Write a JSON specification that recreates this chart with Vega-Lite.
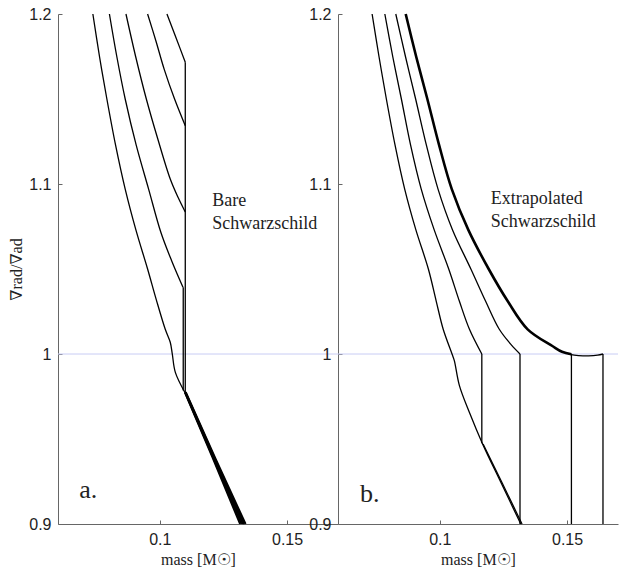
{
  "$schema": "https://vega.github.io/schema/vega-lite/v6.json",
  "background": "white",
  "padding": {"left": 8, "top": 6, "right": 5, "bottom": 5},
  "spacing": 0,
  "bounds": "flush",
  "config": {
    "view": {"stroke": null},
    "axis": {
      "grid": false,
      "domainColor": "#666666",
      "tickColor": "#666666",
      "labelFont": "Liberation Sans",
      "labelFontSize": 16,
      "labelColor": "#222222",
      "titleFont": "Liberation Serif, DejaVu Serif, serif",
      "titleFontSize": 16,
      "titleFontWeight": "normal",
      "titleColor": "#222222",
      "tickSize": -4,
      "labelPadding": 11,
      "titlePadding": 4
    },
    "line": {"color": "black", "strokeWidth": 1.3, "clip": true, "interpolate": "catmull-rom"},
    "rule": {"color": "black", "strokeWidth": 1.3},
    "text": {"align": "left", "baseline": "middle", "font": "Liberation Serif, DejaVu Serif, serif", "color": "#222222"}
  },
  "hconcat": [
    {
      "width": 280,
      "height": 510,
      "layer": [
        {
          "data": {"values": [{"v": 1}]},
          "mark": {"type": "rule", "color": "#c8ccf4", "strokeWidth": 1},
          "encoding": {"y": {"field": "v", "type": "quantitative"}}
        },
        {
          "data": {"values": [
            {"s":"L1","m":0.0737,"v":1.2},{"s":"L1","m":0.0763,"v":1.175},{"s":"L1","m":0.0792,"v":1.15},{"s":"L1","m":0.0826,"v":1.123},{"s":"L1","m":0.0864,"v":1.097},{"s":"L1","m":0.0906,"v":1.073},{"s":"L1","m":0.0952,"v":1.05},{"s":"L1","m":0.0986,"v":1.032},{"s":"L1","m":0.1021,"v":1.0147},{"s":"L1","m":0.1041,"v":1.0069},{"s":"L1","m":0.1049,"v":1.0},{"s":"L1","m":0.1061,"v":0.9892},{"s":"L1","m":0.1098,"v":0.9775},
            {"s":"L2","m":0.0802,"v":1.2},{"s":"L2","m":0.0831,"v":1.175},{"s":"L2","m":0.0864,"v":1.15},{"s":"L2","m":0.0907,"v":1.123},{"s":"L2","m":0.0956,"v":1.097},{"s":"L2","m":0.1004,"v":1.0716},{"s":"L2","m":0.1046,"v":1.055},{"s":"L2","m":0.1091,"v":1.0392},
            {"s":"L3","m":0.0867,"v":1.2},{"s":"L3","m":0.0905,"v":1.175},{"s":"L3","m":0.0947,"v":1.15},{"s":"L3","m":0.0993,"v":1.126},{"s":"L3","m":0.1041,"v":1.1029},{"s":"L3","m":0.1072,"v":1.092},{"s":"L3","m":0.11,"v":1.0835},
            {"s":"L4","m":0.0952,"v":1.2},{"s":"L4","m":0.0985,"v":1.184},{"s":"L4","m":0.1017,"v":1.1676},{"s":"L4","m":0.1058,"v":1.15},{"s":"L4","m":0.11,"v":1.1343},
            {"s":"L5","m":0.1028,"v":1.2},{"s":"L5","m":0.1064,"v":1.1859},{"s":"L5","m":0.11,"v":1.1716}
          ]},
          "mark": {"type": "line"},
          "encoding": {
            "x": {"field": "m", "type": "quantitative", "scale": {"domain": [0.06, 0.17], "nice": false, "zero": false}, "axis": {"values": [0.1, 0.15], "format": "~g", "title": "mass [M☉]"}},
            "y": {"field": "v", "type": "quantitative", "scale": {"domain": [0.9, 1.2], "nice": false, "zero": false}, "axis": {"values": [0.9, 1, 1.1, 1.2], "format": "~g", "title": "∇rad/∇ad"}},
            "detail": {"field": "s"}
          }
        },
        {
          "data": {"values": [
            {"s":"E1","m":0.1098,"v":0.9775},{"s":"E1","m":0.1208,"v":0.9388},{"s":"E1","m":0.1315,"v":0.9},
            {"s":"E2","m":0.1099,"v":0.9775},{"s":"E2","m":0.12105,"v":0.9388},{"s":"E2","m":0.13205,"v":0.9},
            {"s":"E3","m":0.11,"v":0.9775},{"s":"E3","m":0.1213,"v":0.9388},{"s":"E3","m":0.1326,"v":0.9},
            {"s":"E4","m":0.1101,"v":0.9775},{"s":"E4","m":0.12155,"v":0.9388},{"s":"E4","m":0.13315,"v":0.9},
            {"s":"E5","m":0.1102,"v":0.9775},{"s":"E5","m":0.1218,"v":0.9388},{"s":"E5","m":0.1337,"v":0.9}
          ]},
          "mark": {"type": "line", "strokeWidth": 1.9, "interpolate": "linear"},
          "encoding": {"x": {"field": "m", "type": "quantitative"}, "y": {"field": "v", "type": "quantitative"}, "detail": {"field": "s"}}
        },
        {
          "data": {"values": [
            {"m": 0.11, "v": 1.1716, "v2": 0.9775},
            {"m": 0.1092, "v": 1.0392, "v2": 0.9785}
          ]},
          "mark": {"type": "rule"},
          "encoding": {"x": {"field": "m", "type": "quantitative"}, "y": {"field": "v", "type": "quantitative"}, "y2": {"field": "v2"}}
        },
        {
          "data": {"values": [{"m": 0.1206, "v": 1.09, "t": "Bare"}, {"m": 0.1206, "v": 1.0765, "t": "Schwarzschild"}]},
          "mark": {"type": "text", "fontSize": 18},
          "encoding": {"x": {"field": "m", "type": "quantitative"}, "y": {"field": "v", "type": "quantitative"}, "text": {"field": "t"}}
        },
        {
          "data": {"values": [{"m": 0.0683, "v": 0.92, "t": "a."}]},
          "mark": {"type": "text", "fontSize": 26},
          "encoding": {"x": {"field": "m", "type": "quantitative"}, "y": {"field": "v", "type": "quantitative"}, "text": {"field": "t"}}
        }
      ]
    },
    {
      "width": 280,
      "height": 510,
      "layer": [
        {
          "data": {"values": [{"v": 1}]},
          "mark": {"type": "rule", "color": "#c8ccf4", "strokeWidth": 1},
          "encoding": {"y": {"field": "v", "type": "quantitative"}}
        },
        {
          "data": {"values": [
            {"s":"R1","m":0.0734,"v":1.2},{"s":"R1","m":0.0761,"v":1.175},{"s":"R1","m":0.079,"v":1.15},{"s":"R1","m":0.0824,"v":1.123},{"s":"R1","m":0.0862,"v":1.097},{"s":"R1","m":0.0906,"v":1.073},{"s":"R1","m":0.0955,"v":1.05},{"s":"R1","m":0.0986,"v":1.031},{"s":"R1","m":0.1013,"v":1.0147},{"s":"R1","m":0.1048,"v":1.0},{"s":"R1","m":0.1057,"v":0.9961},{"s":"R1","m":0.1077,"v":0.9814},{"s":"R1","m":0.1116,"v":0.9657},{"s":"R1","m":0.1168,"v":0.9471},{"s":"R1","m":0.1243,"v":0.9235},{"s":"R1","m":0.1318,"v":0.9},
            {"s":"R2","m":0.0784,"v":1.2},{"s":"R2","m":0.0815,"v":1.175},{"s":"R2","m":0.0849,"v":1.15},{"s":"R2","m":0.0885,"v":1.123},{"s":"R2","m":0.0927,"v":1.097},{"s":"R2","m":0.0978,"v":1.073},{"s":"R2","m":0.1035,"v":1.05},{"s":"R2","m":0.1077,"v":1.031},{"s":"R2","m":0.1116,"v":1.0147},{"s":"R2","m":0.1165,"v":1.0},
            {"s":"E2","m":0.117,"v":0.9471},{"s":"E2","m":0.1247,"v":0.9235},{"s":"E2","m":0.1323,"v":0.9},
            {"s":"R3","m":0.0827,"v":1.2},{"s":"R3","m":0.0865,"v":1.175},{"s":"R3","m":0.0905,"v":1.15},{"s":"R3","m":0.0947,"v":1.123},{"s":"R3","m":0.0993,"v":1.097},{"s":"R3","m":0.105,"v":1.073},{"s":"R3","m":0.1122,"v":1.05},{"s":"R3","m":0.118,"v":1.031},{"s":"R3","m":0.1233,"v":1.0147},{"s":"R3","m":0.128,"v":1.0055},{"s":"R3","m":0.1315,"v":1.0},
            {"s":"R4b","m":0.1505,"v":1.0002},{"s":"R4b","m":0.1517,"v":0.9996},{"s":"R4b","m":0.1545,"v":0.9991},{"s":"R4b","m":0.1584,"v":0.9989},{"s":"R4b","m":0.162,"v":0.9993},{"s":"R4b","m":0.1641,"v":1.0}
          ]},
          "mark": {"type": "line"},
          "encoding": {
            "x": {"field": "m", "type": "quantitative", "scale": {"domain": [0.06, 0.17], "nice": false, "zero": false}, "axis": {"values": [0.1, 0.15], "format": "~g", "title": "mass [M☉]"}},
            "y": {"field": "v", "type": "quantitative", "scale": {"domain": [0.9, 1.2], "nice": false, "zero": false}, "axis": {"values": [0.9, 1, 1.1, 1.2], "format": "~g", "title": null}},
            "detail": {"field": "s"}
          }
        },
        {
          "data": {"values": [
            {"s":"R4","m":0.0866,"v":1.2},{"s":"R4","m":0.0907,"v":1.175},{"s":"R4","m":0.0951,"v":1.15},{"s":"R4","m":0.0997,"v":1.123},{"s":"R4","m":0.1047,"v":1.097},{"s":"R4","m":0.1112,"v":1.073},{"s":"R4","m":0.1192,"v":1.05},{"s":"R4","m":0.1267,"v":1.031},{"s":"R4","m":0.1345,"v":1.0145},{"s":"R4","m":0.1442,"v":1.0047},{"s":"R4","m":0.148,"v":1.0013},{"s":"R4","m":0.1517,"v":0.9998}
          ]},
          "mark": {"type": "line", "strokeWidth": 2.6},
          "encoding": {"x": {"field": "m", "type": "quantitative"}, "y": {"field": "v", "type": "quantitative"}, "detail": {"field": "s"}}
        },
        {
          "data": {"values": [
            {"m": 0.1165, "v": 1.0, "v2": 0.9475},
            {"m": 0.1315, "v": 1.0, "v2": 0.9},
            {"m": 0.1517, "v": 1.0, "v2": 0.9},
            {"m": 0.1641, "v": 1.0, "v2": 0.9}
          ]},
          "mark": {"type": "rule"},
          "encoding": {"x": {"field": "m", "type": "quantitative"}, "y": {"field": "v", "type": "quantitative"}, "y2": {"field": "v2"}}
        },
        {
          "data": {"values": [{"m": 0.12, "v": 1.0912, "t": "Extrapolated"}, {"m": 0.12, "v": 1.0776, "t": "Schwarzschild"}]},
          "mark": {"type": "text", "fontSize": 18},
          "encoding": {"x": {"field": "m", "type": "quantitative"}, "y": {"field": "v", "type": "quantitative"}, "text": {"field": "t"}}
        },
        {
          "data": {"values": [{"m": 0.0686, "v": 0.9176, "t": "b."}]},
          "mark": {"type": "text", "fontSize": 26},
          "encoding": {"x": {"field": "m", "type": "quantitative"}, "y": {"field": "v", "type": "quantitative"}, "text": {"field": "t"}}
        }
      ]
    }
  ]
}
